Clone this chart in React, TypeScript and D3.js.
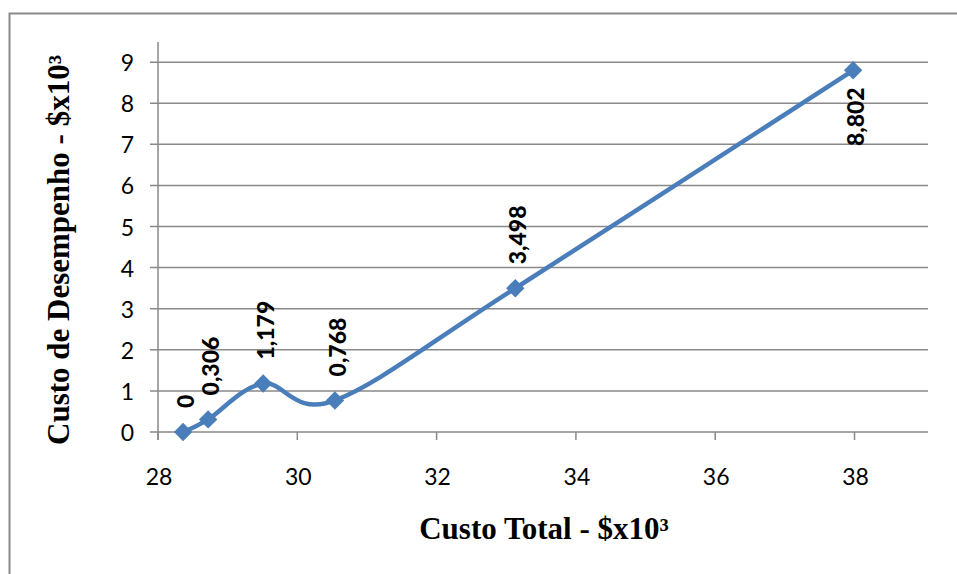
import React from "react";
import * as d3 from "d3";

const xValues = [28.36, 28.72, 29.51, 30.54, 33.13, 37.98];
const yValues = [0, 0.306, 1.179, 0.768, 3.498, 8.802];
const pointLabels = ["0", "0,306", "1,179", "0,768", "3,498", "8,802"];
const xTicks = [28, 30, 32, 34, 36, 38];
const yTicks = [0, 1, 2, 3, 4, 5, 6, 7, 8, 9];
const xTitle = "Custo Total - $x10³";
const yTitle = "Custo de Desempenho - $x10³";

const W = 957;
const H = 574;
const plotLeft = 158;
const plotRight = 928;
const plotTop = 42;
const plotBottom = 432;

export default function App() {
  const x = d3.scaleLinear().domain([28, 39.055]).range([plotLeft, plotRight]);
  const y = d3.scaleLinear().domain([0, 9.49]).range([plotBottom, plotTop]);
  const pts: [number, number][] = xValues.map((v, i) => [x(v), y(yValues[i])]);
  const line = d3.line().curve(d3.curveCardinal.tension(0))(pts) || "";
  const grid = "#898989";
  const blue = "#4A7EBB";
  const sans = "Lato, 'Open Sans', sans-serif";
  const serif = "'Liberation Serif', 'Times New Roman', serif";
  return (
    <svg
      width={W}
      height={H}
      style={{ position: "absolute", left: 0, top: 0, background: "#fff" }}
    >
      <rect x={9.5} y={13.5} width={W + 20} height={H + 20} fill="none" stroke="#8a8a8a" strokeWidth={2} />
      {yTicks.map((t) => (
        <g key={"y" + t}>
          <line x1={150} x2={plotRight} y1={y(t)} y2={y(t)} stroke={grid} strokeWidth={1.5} />
          <text
            x={134}
            y={y(t)}
            textAnchor="end"
            dominantBaseline="central"
            fontFamily={sans}
            fontSize={23}
            fill="#000"
          >
            {t}
          </text>
        </g>
      ))}
      <line x1={plotLeft} x2={plotLeft} y1={plotTop} y2={plotBottom + 8} stroke={grid} strokeWidth={1.5} />
      {xTicks.map((t) => (
        <g key={"x" + t}>
          <line x1={x(t)} x2={x(t)} y1={plotBottom} y2={plotBottom + 8} stroke={grid} strokeWidth={1.5} />
          <text
            x={x(t) + 1}
            y={476}
            textAnchor="middle"
            dominantBaseline="central"
            fontFamily={sans}
            fontSize={23}
            fill="#000"
          >
            {t}
          </text>
        </g>
      ))}
      <path d={line} fill="none" stroke={blue} strokeWidth={4.5} strokeLinejoin="round" strokeLinecap="round" />
      {pts.map(([px, py], i) => (
        <rect
          key={"m" + i}
          x={px - 6.5}
          y={py - 6.5}
          width={13}
          height={13}
          fill={blue}
          transform={`rotate(45 ${px} ${py})`}
        />
      ))}
      {pts.map(([px, py], i) => {
        const below = i === pts.length - 1;
        const ty = below ? py + 17 : py - 24;
        return (
          <text
            key={"l" + i}
            transform={`translate(${px + 2},${ty}) rotate(-90)`}
            textAnchor={below ? "end" : "start"}
            dominantBaseline="central"
            fontFamily={sans}
            fontWeight="900"
            fontSize={23}
            fill="#000"
          >
            {pointLabels[i]}
          </text>
        );
      })}
      <text
        x={544}
        y={528}
        textAnchor="middle"
        dominantBaseline="central"
        fontFamily={serif}
        fontWeight="bold"
        fontSize={31}
        fill="#000"
      >
        {xTitle}
      </text>
      <text
        transform={`translate(58,${250}) rotate(-90)`}
        textAnchor="middle"
        dominantBaseline="central"
        fontFamily={serif}
        fontWeight="bold"
        fontSize={31}
        fill="#000"
      >
        {yTitle}
      </text>
    </svg>
  );
}
